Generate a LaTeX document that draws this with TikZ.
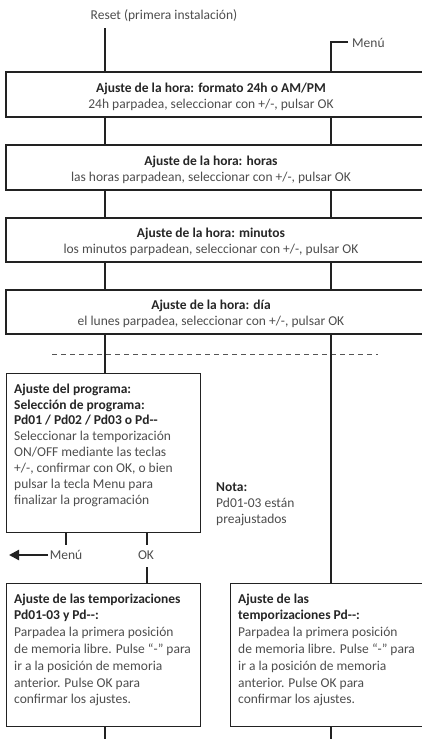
\documentclass[tikz,border=0pt]{standalone}
\usepackage{fontspec}
\setmainfont{Carlito}
\usetikzlibrary{arrows.meta}
\definecolor{ln}{HTML}{222222}
\definecolor{tt}{HTML}{262626}
\definecolor{bt}{HTML}{4D4D4D}
\definecolor{dsh}{HTML}{555555}
\begin{document}
\begin{tikzpicture}[x=1pt,y=-1pt,
  widebox/.style={draw=ln, line width=1.2pt, minimum width=419pt, minimum height=#1, inner sep=0pt},
  widebox/.default=45pt,
  wtext/.style={align=center, inner sep=0pt, text=bt, font=\fontsize{13.5}{16}\selectfont},
  plainbox/.style={draw=ln, line width=1.2pt, inner sep=0pt, anchor=north west},
  btext/.style={align=left, inner sep=0pt, anchor=north west, text=bt},
  conn/.style={draw=ln, line width=2.2pt},
  lbl/.style={inner sep=0pt, text=bt, font=\fontsize{13.5}{16}\selectfont},
  ttl/.style={}
]
\useasboundingbox (0,0) rectangle (422,739);
\newcommand\hd[1]{{\bfseries\color{tt}#1}}
% columns
\coordinate (L) at (105,0);
\coordinate (R) at (331,0);
% top labels
\node[lbl] (reset) at (164,16) {Reset (primera instalación)};
\coordinate (r0) at (105,28);
\coordinate (m1) at (348,42);
\coordinate (m0) at (331,42);
\node[lbl, anchor=west] (menu) at (352,43) {Menú};
% wide boxes
\node[widebox] (b1) at (215.5,94.5) {};
\node[wtext] (t1) at (211,96.5) {\hd{Ajuste de la hora: formato 24h o AM/PM}\\24h parpadea, seleccionar con +/-, pulsar OK};
\node[widebox] (b2) at (215.5,167.5) {};
\node[wtext] (t2) at (211,169.5) {\hd{Ajuste de la hora: horas}\\las horas parpadean, seleccionar con +/-, pulsar OK};
\node[widebox=44pt] (b3) at (215.5,240) {};
\node[wtext] (t3) at (211,242) {\hd{Ajuste de la hora: minutos}\\los minutos parpadean, seleccionar con +/-, pulsar OK};
\node[widebox=44pt] (b4) at (215.5,312) {};
\node[wtext] (t4) at (211,314) {\hd{Ajuste de la hora: día}\\el lunes parpadea, seleccionar con +/-, pulsar OK};
% dashed separator
\coordinate (d0) at (52,354);
\coordinate (d1) at (378,354);
\draw[dsh, line width=1pt, dash pattern=on 5pt off 4pt] (d0) -- (d1);
% program box
\node[plainbox, minimum width=194pt, minimum height=159pt] (prog) at (6,373) {};
\node[btext, font=\fontsize{13.5}{15.9}\selectfont] (progt) at (14,383.5) {\hd{Ajuste del programa:}\\\hd{Selección de programa:}\\\hd{Pd01 / Pd02 / Pd03 o Pd-{}-}\\Seleccionar la temporización\\ON/OFF mediante las teclas\\+/-, confirmar con OK, o bien\\pulsar la tecla Menu para\\finalizar la programación};
% nota
\node[btext, font=\fontsize{13.5}{16}\selectfont] (nota) at (216,482.5) {\hd{Nota:}\\Pd01-03 están\\preajustados};
% labels under program box
\node[lbl] (mlab) at (66,555) {Menú};
\node[lbl] (oklab) at (146,555) {OK};
\coordinate (mend) at (66,545);
\coordinate (okend) at (147,545);
\coordinate (okstart) at (147,567);
\coordinate (atip) at (9,555);
\coordinate (atail) at (48,555);
% bottom boxes
\node[plainbox, minimum width=194pt, minimum height=143pt] (pl) at (6,583) {};
\node[btext, font=\fontsize{13.5}{16.8}\selectfont] (plt) at (14,593.5) {\hd{Ajuste de las temporizaciones}\\\hd{Pd01-03 y Pd-{}-:}\\Parpadea la primera posición\\de memoria libre. Pulse “-” para\\ir a la posición de memoria\\anterior. Pulse OK para\\confirmar los ajustes.};
\node[plainbox, minimum width=196pt, minimum height=143pt] (pr) at (230,583) {};
\node[btext, font=\fontsize{13.5}{16.8}\selectfont] (prt) at (238,593.5) {\hd{Ajuste de las}\\\hd{temporizaciones Pd-{}-:}\\Parpadea la primera posición\\de memoria libre. Pulse “-” para\\ir a la posición de memoria\\anterior. Pulse OK para\\confirmar los ajustes.};
\coordinate (bot) at (0,739);
% connectors
\draw[conn] (r0) -- (r0 |- b1.north);
\draw[conn] (m1) -- (m0) -- (m0 |- b1.north);
\draw[conn] (L |- b1.south) -- (L |- b2.north);
\draw[conn] (R |- b1.south) -- (R |- b2.north);
\draw[conn] (L |- b2.south) -- (L |- b3.north);
\draw[conn] (R |- b2.south) -- (R |- b3.north);
\draw[conn] (L |- b3.south) -- (L |- b4.north);
\draw[conn] (R |- b3.south) -- (R |- b4.north);
\draw[conn] (L |- b4.south) -- (L |- prog.north);
\draw[conn] (R |- b4.south) -- (R |- pr.north);
\draw[conn] (mend |- prog.south) -- (mend);
\draw[conn] (okend |- prog.south) -- (okend);
\draw[conn] (okstart) -- (okstart |- pl.north);
\draw[conn, -{Triangle[length=10pt,width=10pt]}] (atail) -- (atip);
\draw[conn] (L |- pl.south) -- (L |- bot);
\draw[conn] (R |- pr.south) -- (R |- bot);
\end{tikzpicture}
\end{document}
